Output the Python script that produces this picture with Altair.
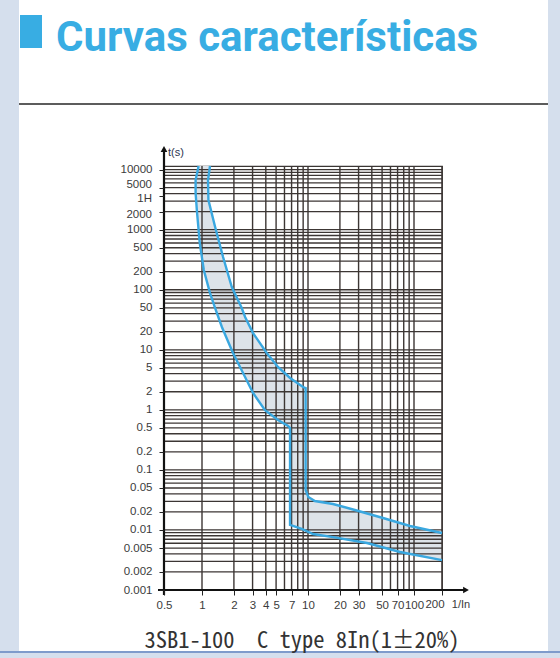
import altair as alt
import pandas as pd

# ---------------- data ----------------
x_ticks = [0.5, 1, 2, 3, 4, 5, 7, 10, 20, 30, 50, 70, 100, 200]
y_ticks = [10000, 5000, 3600, 2000, 1000, 500, 200, 100, 50, 20, 10, 5, 2, 1,
           0.5, 0.2, 0.1, 0.05, 0.02, 0.01, 0.005, 0.002, 0.001]
# tick labels that the original prints nudged away from their tick
y_nudged_up = [5000]          # printed slightly above its tick
y_nudged_down = [3600, 2000]  # printed slightly below its tick ("1H", "2000")
x_nudged_left = [200]

x_grid = [1, 2, 3, 4, 5, 6, 7, 8, 9, 10, 20, 30, 40, 50, 60, 70, 80, 90, 100, 200]
y_grid_mantissa = [1, 2, 3, 4, 5, 6, 7, 8, 9]
y_grid_decades = [0.001, 0.01, 0.1, 1, 10, 100, 1000]
y_grid_extra = [10000]

# left / lower tripping curve (multiple of In, seconds)
lower_x = [0.94, 0.89, 0.89, 0.91, 0.96, 1.04, 1.19, 1.33, 1.54, 1.96, 2.44, 3.03,
           3.93, 5.21, 6.48, 6.77, 6.77, 8.72, 11.15, 17.2, 36, 73.8, 200]
lower_t = [11500, 6700, 4100, 2130, 600, 213, 88, 49.6, 24, 8.84, 4.11, 1.91,
           0.99, 0.68, 0.54, 0.50, 0.0121, 0.0104, 0.00855, 0.0076, 0.00606, 0.00429, 0.00315]

# right / upper tripping curve
upper_x = [1.19, 1.14, 1.15, 1.33, 1.58, 1.91, 2.37, 2.55, 3.03, 4.08, 5.21, 6.77,
           8.97, 9.5, 9.5, 10.07, 11.6, 17.2, 27.7, 51, 91.7, 200]
upper_t = [11500, 6700, 3120, 1109, 351, 111, 49.6, 35.2, 19, 8.84, 5.17, 3.39,
           2.40, 2.31, 0.0462, 0.0354, 0.0303, 0.0270, 0.0215, 0.0158, 0.01163, 0.0089]

title_text = "Curvas características"
caption_text = "3SB1-100\u00a0\u00a0C type 8In(1±20%)"
y_title = "t(s)"
x_title = "1/In"

# ---------------- tables ----------------
W, H = 278, 424
lower_df = pd.DataFrame({"x": lower_x, "t": lower_t, "i": range(len(lower_x))})
upper_df = pd.DataFrame({"x": upper_x, "t": upper_t, "i": range(len(upper_x))})
poly_x = lower_x + upper_x[::-1]
poly_t = lower_t + upper_t[::-1]
poly_df = pd.DataFrame({"x": poly_x, "t": poly_t, "i": range(len(poly_x))})
xgrid_df = pd.DataFrame({"v": x_grid})
ygrid_df = pd.DataFrame({"v": [m * d for d in y_grid_decades for m in y_grid_mantissa] + y_grid_extra})
one = pd.DataFrame({"a": [1]})


def ylabel(v):
    return "1H" if v == 3600 else f"{v:g}"


yup_df = pd.DataFrame({"v": y_nudged_up, "lab": [ylabel(v) for v in y_nudged_up]})
ydown_df = pd.DataFrame({"v": y_nudged_down, "lab": [ylabel(v) for v in y_nudged_down]})
xleft_df = pd.DataFrame({"v": x_nudged_left, "lab": [f"{v:g}" for v in x_nudged_left]})

y_hidden = " || ".join(f"datum.value == {v}" for v in y_nudged_up + y_nudged_down)
x_hidden = " || ".join(f"datum.value == {v}" for v in x_nudged_left)

xs = alt.Scale(type="log", domain=[0.5, 1, 100, 200], range=[0, 38, 250, 278])
ys = alt.Scale(type="log", domain=[0.001, 11500], nice=False)

GRID = "#3c3634"
LBL_FONT = "Liberation Sans"
LBL_SIZE = 11.5
LBL_COLOR = "#3b3b3b"
BLUE = "#3aa8e0"
SIDE = "#d5dfed"

# ---------------- page decoration ----------------
left_strip = alt.Chart(one).mark_rect(color=SIDE).encode(
    x=alt.value(-164), x2=alt.value(-145), y=alt.value(-166), y2=alt.value(492))
right_strip = alt.Chart(one).mark_rect(color=SIDE).encode(
    x=alt.value(384), x2=alt.value(396), y=alt.value(-166), y2=alt.value(492))
bottom_strip = alt.Chart(one).mark_rect(color=SIDE).encode(
    x=alt.value(-164), x2=alt.value(396), y=alt.value(486), y2=alt.value(492))
bottom_line = alt.Chart(one).mark_rule(color="#7f9bcb", strokeWidth=2).encode(
    x=alt.value(-164), x2=alt.value(396), y=alt.value(486))
square = alt.Chart(one).mark_rect(color="#38ade3").encode(
    x=alt.value(-144), x2=alt.value(-122), y=alt.value(-151), y2=alt.value(-118))
title = alt.Chart(one).mark_text(
    text=title_text, font="Roboto, Liberation Sans, sans-serif",
    fontSize=42, fontWeight="bold", color="#38ade3", align="left", baseline="alphabetic"
).encode(x=alt.value(-108), y=alt.value(-115))
sep = alt.Chart(one).mark_rule(color="#5c5c5c", strokeWidth=2).encode(
    x=alt.value(-145), x2=alt.value(384), y=alt.value(-62))

# ---------------- plot ----------------
fill = alt.Chart(poly_df).mark_line(fill="#dde3e9", strokeWidth=0, interpolate="linear").encode(
    x=alt.X("x:Q", scale=xs),
    y=alt.Y("t:Q", scale=ys),
    order="i:Q")

hgrid = alt.Chart(ygrid_df).mark_rule(color=GRID, strokeWidth=1.3).encode(
    y=alt.Y("v:Q", scale=ys, title=None, axis=alt.Axis(
        values=y_ticks, title=None, domain=False, grid=False, zindex=1,
        ticks=True, tickSize=5, tickColor="#222", tickWidth=1,
        labelExpr=f"({y_hidden}) ? '' : format(datum.value, '~g')",
        labelFont=LBL_FONT, labelFontSize=LBL_SIZE, labelColor=LBL_COLOR,
        labelPadding=7, labelOverlap=False, labelBound=False)))

vgrid = alt.Chart(xgrid_df).mark_rule(color=GRID, strokeWidth=1.4).encode(
    x=alt.X("v:Q", scale=xs, title=None, axis=alt.Axis(
        values=x_ticks, title=None, domain=False, grid=False, zindex=1,
        ticks=True, tickSize=5, tickColor="#222", tickWidth=1,
        labelExpr=f"({x_hidden}) ? '' : format(datum.value, '~g')",
        labelFont=LBL_FONT, labelFontSize=LBL_SIZE, labelColor=LBL_COLOR,
        labelPadding=4, labelOverlap=False, labelFlush=False)))

ylab_up = alt.Chart(yup_df).mark_text(
    font=LBL_FONT, fontSize=LBL_SIZE, color=LBL_COLOR, align="right", baseline="middle", dx=-12, dy=-3
).encode(y=alt.Y("v:Q", scale=ys), x=alt.value(0), text="lab:N")
ylab_down = alt.Chart(ydown_df).mark_text(
    font=LBL_FONT, fontSize=LBL_SIZE, color=LBL_COLOR, align="right", baseline="middle", dx=-12, dy=3
).encode(y=alt.Y("v:Q", scale=ys), x=alt.value(0), text="lab:N")
xlab_left = alt.Chart(xleft_df).mark_text(
    font=LBL_FONT, fontSize=LBL_SIZE, color=LBL_COLOR, align="center", baseline="top", dx=-7, dy=9
).encode(x=alt.X("v:Q", scale=xs), y=alt.value(H), text="lab:N")

lower_line = alt.Chart(lower_df).mark_line(color=BLUE, strokeWidth=2.4).encode(
    x=alt.X("x:Q", scale=xs), y=alt.Y("t:Q", scale=ys), order="i:Q")
upper_line = alt.Chart(upper_df).mark_line(color=BLUE, strokeWidth=2.4).encode(
    x=alt.X("x:Q", scale=xs), y=alt.Y("t:Q", scale=ys), order="i:Q")

y_axis_line = alt.Chart(one).mark_rule(color="#111", strokeWidth=2.2).encode(
    x=alt.value(0), y=alt.value(-16), y2=alt.value(429))
x_axis_line = alt.Chart(one).mark_rule(color="#111", strokeWidth=2.2).encode(
    x=alt.value(-6), x2=alt.value(300), y=alt.value(H))
y_arrow = alt.Chart(one).mark_point(shape="triangle-up", filled=True, size=45, color="#111", opacity=1).encode(
    x=alt.value(0), y=alt.value(-17))
x_arrow = alt.Chart(one).mark_point(shape="triangle-right", filled=True, size=45, color="#111", opacity=1).encode(
    x=alt.value(302), y=alt.value(H))

y_lab = alt.Chart(one).mark_text(text=y_title, font=LBL_FONT, fontSize=11, color="#2d3550",
                                  align="left", baseline="middle").encode(x=alt.value(4), y=alt.value(-13))
x_lab = alt.Chart(one).mark_text(text=x_title, font=LBL_FONT, fontSize=11, color=LBL_COLOR,
                                  align="center", baseline="top").encode(x=alt.value(297), y=alt.value(433))
caption = alt.Chart(one).mark_text(
    text=caption_text, font="Noto Sans Mono CJK SC, DejaVu Sans Mono, monospace",
    fontSize=22.5, color="#333333", align="center", baseline="alphabetic"
).encode(x=alt.value(138), y=alt.value(482))

chart = alt.layer(
    left_strip, right_strip, bottom_strip, bottom_line, square, title, sep,
    fill, hgrid, vgrid, lower_line, upper_line,
    y_axis_line, x_axis_line, y_arrow, x_arrow,
    ylab_up, ylab_down, xlab_left, y_lab, x_lab, caption
).properties(
    width=W, height=H,
    padding={"left": 164, "top": 166, "right": 118, "bottom": 68},
    autosize=alt.AutoSizeParams(type="none"),
    background="white",
).configure_view(stroke="#3b3634", strokeWidth=1.2)

chart.save("out.html", embed_options={"renderer": "svg", "actions": False})
